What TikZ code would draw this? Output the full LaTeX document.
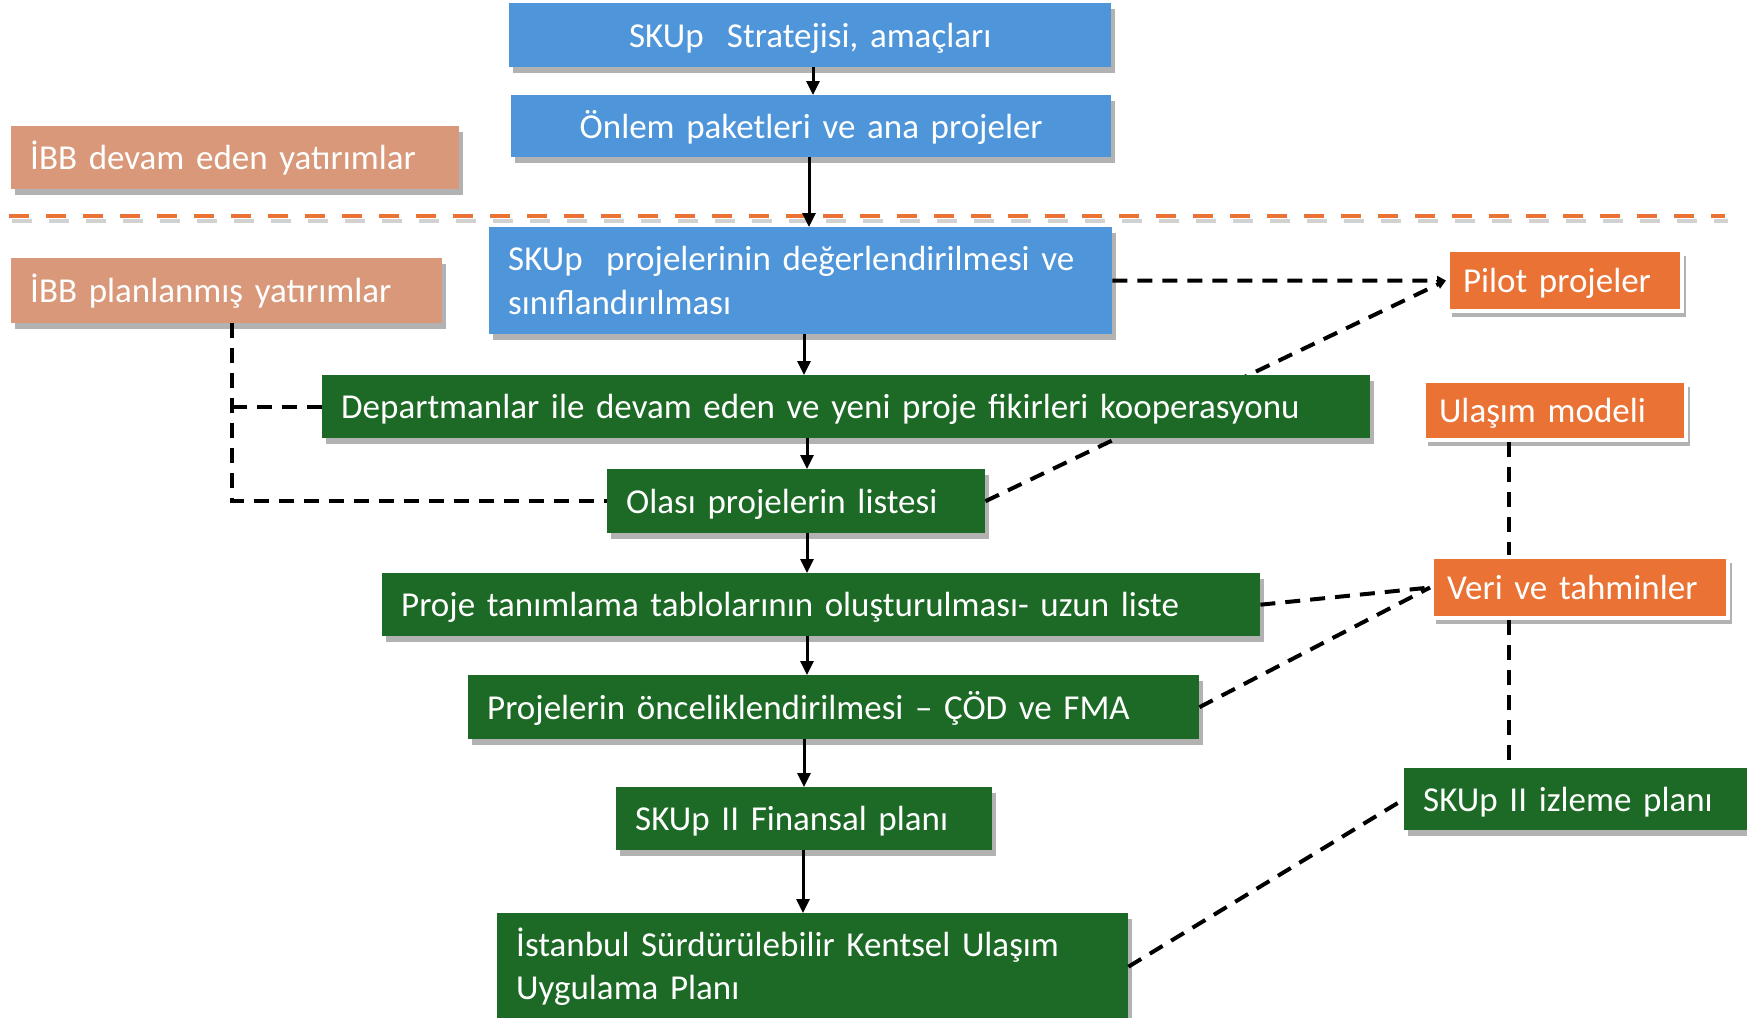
\documentclass[tikz,border=0pt]{standalone}
\usepackage{fontspec}
\setmainfont{Carlito}
\usetikzlibrary{arrows.meta}
\usetikzlibrary{positioning}
\usetikzlibrary{shadows}
\usetikzlibrary{backgrounds}
\definecolor{skblue}{HTML}{4F95DA}
\definecolor{skgreen}{HTML}{1C6A26}
\definecolor{sksalmon}{HTML}{D99879}
\definecolor{skorange}{HTML}{E97234}
\tikzset{
  kutu/.style={rectangle, anchor=north west, inner xsep=19pt, inner ysep=0pt,
    text=white, align=left, font=\fontsize{35}{43.5}\selectfont,
    drop shadow={shadow xshift=4pt, shadow yshift=-6pt, fill=black, opacity=0.3}},
  tek/.style={text height=24pt, text depth=0pt},
  mavi/.style={kutu, fill=skblue, align=center},
  yesil/.style={kutu, fill=skgreen},
  somon/.style={kutu, fill=sksalmon},
  turuncu/.style={kutu, fill=skorange, draw=white, line width=4pt, inner xsep=15pt},
  ok/.style={-{Triangle[length=14pt,width=13pt]}, line width=3pt},
  kesik/.style={line width=4pt, dash pattern=on 15pt off 10pt},
}

\begin{document}
\begin{tikzpicture}[x=1pt,y=-1pt]
  \useasboundingbox (0,0) rectangle (1747,1017);
  %separator line with its shadow
  \draw[line width=4pt, black!18, dash pattern=on 20pt off 17pt] (12,221) -- (1728,221);
  \draw[line width=4pt, skorange, dash pattern=on 20pt off 17pt] (9,216) -- (1725,216);

  %boxes
  \node[mavi, tek, text width=564pt, minimum height=64pt] (strat) at (509,3) {SKUp\ \ Stratejisi, amaçları};
  \node[mavi, tek, text width=562pt, minimum height=62pt] (onlem) at (511,95) {Önlem paketleri ve ana projeler};
  \node[somon, tek, text width=410pt, minimum height=63pt] (ibbdevam) at (11,126) {İBB devam eden yatırımlar};
  \node[somon, tek, text width=393pt, minimum height=65pt] (ibbplan) at (11,258) {İBB planlanmış yatırımlar};
  \node[mavi, align=left, text width=585pt, minimum height=107pt] (degerl) at (489,227) {SKUp\ \ projelerinin değerlendirilmesi ve\\ sınıflandırılması};
  \node[turuncu, tek, text width=204pt, minimum height=61pt] (pilot) at (1446,248) {Pilot projeler};
  \node[yesil, tek, text width=1010pt, minimum height=63pt] (dept) at (322,375) {Departmanlar ile devam eden ve yeni proje fikirleri kooperasyonu};
  \node[turuncu, tek, text width=232pt, minimum height=59pt] (ulasim) at (1422,379) {Ulaşım modeli};
  \node[yesil, tek, text width=340pt, minimum height=64pt] (olasi) at (607,469) {Olası projelerin listesi};
  \node[yesil, tek, text width=840pt, minimum height=63pt] (tanim) at (382,573) {Proje tanımlama tablolarının oluşturulması- uzun liste};
  \node[turuncu, tek, text width=266pt, minimum height=61pt] (veri) at (1430,555) {Veri ve tahminler};
  \node[yesil, tek, text width=693pt, minimum height=64pt] (oncelik) at (468,675) {Projelerin önceliklendirilmesi – ÇÖD ve FMA};
  \node[yesil, tek, text width=305pt, minimum height=62pt] (izleme) at (1404,768) {SKUp II izleme planı};
  \node[yesil, tek, text width=338pt, minimum height=63pt] (finans) at (616,787) {SKUp II Finansal planı};
  \node[yesil, text width=593pt, minimum height=107pt] (istanbul) at (497,913) {İstanbul Sürdürülebilir Kentsel Ulaşım\\ Uygulama Planı};

  %main flow
  \foreach \a/\b/\x in {strat/onlem/813, onlem/degerl/809, degerl/dept/804, dept/olasi/807,
      olasi/tanim/807, tanim/oncelik/807, oncelik/finans/804, finans/istanbul/803}
  {
    \coordinate (k) at (\x,0);
    \draw[ok] (\a.south -| k) -- (\b.north -| k);
  }

  %dashed links
  \coordinate (sol) at (232,0);
  \coordinate (sag) at (1509,0);
  \begin{scope}[on background layer]
    \draw[kesik, -{Triangle[length=9pt,width=9pt]}] (olasi.east) -- (pilot.west);
  \end{scope}
  \draw[kesik, -{Triangle[length=9pt,width=9pt]}] (degerl.east) -- (pilot.west);
  \draw[kesik] (ibbplan.south -| sol) |- (olasi.west);
  \draw[kesik] (dept.west) -- (dept.west -| sol);
  \draw[kesik] (ulasim.south -| sag) -- (veri.north -| sag);
  \draw[kesik] (veri.south -| sag) -- (izleme.north -| sag);
  \draw[kesik] (tanim.east) -- (veri.west);
  \draw[kesik] (oncelik.east) -- (veri.west);
  \draw[kesik] (istanbul.east) -- (izleme.west);
\end{tikzpicture}
\end{document}
